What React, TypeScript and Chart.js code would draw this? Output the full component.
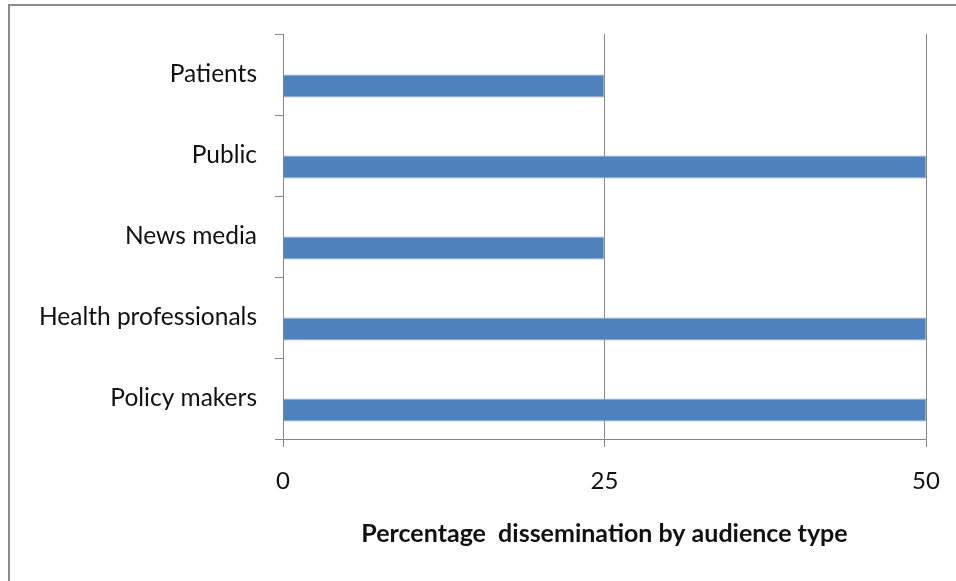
import React, { useEffect, useRef } from "react";
import { Chart, registerables } from "chart.js";

Chart.register(...registerables);

const categories = ["Patients", "Public", "News media", "Health professionals", "Policy makers"];
const values = [25, 50, 25, 50, 50];
const emptySeries = [null, null, null, null, null];
const xTicks = [0, 25, 50];
const xTitle = "Percentage  dissemination by audience type";

const FONT = "Lato, 'Open Sans', sans-serif";
const AXIS_GRAY = "#868686";

const frame = {
  id: "frame",
  afterDraw(chart: any) {
    const ctx = chart.ctx;
    ctx.save();
    ctx.strokeStyle = "#8c8c8c";
    ctx.lineWidth = 2;
    ctx.beginPath();
    ctx.moveTo(9, 581);
    ctx.lineTo(9, 5);
    ctx.lineTo(956, 5);
    ctx.stroke();
    ctx.restore();
  },
};

export default function App() {
  const ref = useRef<HTMLCanvasElement | null>(null);
  useEffect(() => {
    if (!ref.current) return;
    const chart = new Chart(ref.current, {
      type: "bar",
      data: {
        labels: categories,
        datasets: [
          { label: "empty", data: emptySeries as any, backgroundColor: "#4F81BD" },
          {
            label: "Percentage",
            data: values,
            backgroundColor: "#4F81BD",
            borderColor: "#8EAEDA",
            borderWidth: 1,
          },
        ],
      },
      options: {
        indexAxis: "y",
        animation: false,
        responsive: false,
        maintainAspectRatio: false,
        devicePixelRatio: 1,
        datasets: { bar: { categoryPercentage: 0.57, barPercentage: 1 } },
        layout: { padding: { top: 34, right: 30, left: 0, bottom: 0 } },
        plugins: { legend: { display: false }, tooltip: { enabled: false } },
        scales: {
          x: {
            min: 0,
            max: 50,
            afterFit: (s: any) => {
              s.height = 142;
              s.paddingLeft = 0;
              s.paddingRight = 0;
            },
            afterBuildTicks: (s: any) => {
              s.ticks = xTicks.map((v) => ({ value: v }));
            },
            grid: { color: AXIS_GRAY, lineWidth: 1, tickLength: 8, drawTicks: true },
            border: { display: true, color: AXIS_GRAY },
            ticks: {
              padding: 20,
              color: "#111",
              font: { family: FONT, size: 24 },
              maxRotation: 0,
            },
            title: {
              display: true,
              text: xTitle,
              color: "#111",
              font: { family: FONT, size: 25, weight: "bold" },
              padding: { top: 0, bottom: 32 },
            },
          },
          y: {
            afterFit: (s: any) => {
              s.width = 283;
            },
            grid: {
              display: true,
              drawOnChartArea: false,
              drawTicks: true,
              tickLength: 8,
              color: AXIS_GRAY,
              offset: true,
            },
            border: { display: true, color: AXIS_GRAY },
            ticks: {
              padding: 18,
              color: "#111",
              font: { family: FONT, size: 24.5 },
            },
          },
        },
      },
      plugins: [frame],
    });
    return () => chart.destroy();
  }, []);
  return (
    <div style={{ position: "fixed", left: 0, top: 0, width: 956, height: 581, background: "#fff" }}>
      <canvas ref={ref} width={956} height={581} style={{ display: "block" }} />
    </div>
  );
}
